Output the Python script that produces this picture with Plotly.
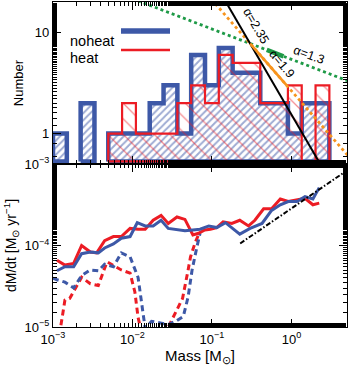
import numpy as np
import plotly.graph_objects as go

# ---------------- data ----------------
# histogram (20 log-spaced bins from 1e-3 to 3 Msun)
bin_lo_log, bin_hi_log, n_bins = -3.0, np.log10(3.0), 20
noheat_counts = [1, 0, 2, 0, 1, 1, 1, 2, 3, 1, 6, 3, 7, 4, 4, 2, 2, 1, 2, 2]
heat_counts   = [0, 0, 0, 0, 1, 2, 1, 1, 1, 2, 3, 2, 6, 5, 5, 2, 2, 3, 0, 3]

# power-law slopes meeting at a common pivot (log M, log N)
pivot_logM, pivot_logN = -0.52, 0.89
alpha_salpeter = 2.35
alpha_mid = 1.9
alpha_flat = 1.3
mid_solid_logM = [-0.52, -0.06]
flat_solid_logM = [-0.31, -0.10]

# accretion rates (log10 Msun/yr) vs log10 mass
heat_logM = [-2.95, -2.85, -2.74, -2.64, -2.53, -2.45, -2.35, -2.24, -2.14, -2.03,
             -1.93, -1.84, -1.74, -1.64, -1.55, -1.44, -1.34, -1.24, -1.17, -1.09,
             -1.02, -0.94, -0.86, -0.75, -0.65, -0.54, -0.46, -0.35, -0.25, -0.14,
             -0.04, 0.07, 0.17, 0.27, 0.35]
heat_rate = [-4.18, -4.24, -4.22, -4.00, -4.08, -4.09, -3.94, -3.89, -3.89, -3.79,
             -3.80, -3.80, -3.69, -3.63, -3.73, -3.65, -3.68, -3.87, -3.85, -3.81,
             -3.80, -3.78, -3.71, -3.73, -3.69, -3.76, -3.69, -3.55, -3.55, -3.43,
             -3.46, -3.44, -3.42, -3.50, -3.48]
noheat_logM = [-2.95, -2.85, -2.74, -2.64, -2.53, -2.43, -2.35, -2.24, -2.14, -2.03,
               -1.94, -1.84, -1.74, -1.64, -1.55, -1.44, -1.34, -1.24, -1.15, -1.04,
               -0.94, -0.83, -0.65, -0.52, -0.37, -0.25, -0.14, -0.04, 0.07, 0.17,
               0.27, 0.35]
noheat_rate = [-4.31, -4.26, -4.26, -4.10, -4.08, -4.09, -4.03, -3.98, -3.91, -3.89,
               -3.72, -3.76, -3.76, -3.69, -3.79, -3.81, -3.82, -3.81, -3.80, -3.76,
               -3.78, -3.72, -3.86, -3.79, -3.73, -3.57, -3.50, -3.46, -3.46, -3.40,
               -3.43, -3.29]
heat_dash_logM = [-2.92, -2.85, -2.79, -2.64, -2.53, -2.43, -2.32, -2.24, -2.14, -2.03,
                  -1.97, -1.93, -1.88, -1.60, -1.55, -1.44, -1.37, -1.30, -1.27, -1.21, -1.17]
heat_dash_rate = [-5.10, -4.67, -4.65, -4.39, -4.47, -4.49, -4.20, -4.24, -4.30, -4.34,
                  -4.57, -4.88, -5.10, -5.10, -5.00, -4.78, -4.65, -4.30, -4.14, -3.96, -3.87]
noheat_dash_logM = [-3.0, -2.95, -2.85, -2.74, -2.64, -2.53, -2.43, -2.35, -2.24, -2.14,
                    -2.03, -1.93, -1.84, -1.76, -1.65, -1.55, -1.44, -1.36, -1.30, -1.25,
                    -1.19, -1.15]
noheat_dash_rate = [-4.40, -4.42, -4.45, -4.52, -4.37, -4.30, -4.31, -4.23, -4.26, -4.09,
                    -4.14, -4.39, -5.02, -4.93, -4.95, -4.97, -4.92, -4.87, -4.63, -4.30,
                    -4.02, -3.85]
# reference power law dM/dt ~ M^(2/3)
ref_logM = [-0.645, 0.75]
ref_anchor_rate = -3.975
ref_slope = 2.0 / 3.0

# ---------------- style ----------------
BLUE = "#3D58A7"
RED = "#EC1C24"
ORANGE = "#F7941D"
GREEN = "#1E9A47"
FONT = "Liberation Sans, Arial, sans-serif"

fig = go.Figure()

# ---- histograms ----
edges = np.linspace(bin_lo_log, bin_hi_log, n_bins + 1)
base = 0.53


def step_outline(counts):
    xs, ys = [], []
    i = 0
    n = len(counts)
    while i < n:
        if counts[i] <= 0:
            i += 1
            continue
        j = i
        xs.append(edges[i]); ys.append(base)
        while j < n and counts[j] > 0:
            xs += [edges[j], edges[j + 1]]
            ys += [counts[j], counts[j]]
            j += 1
        xs.append(edges[j]); ys.append(base)
        xs.append(edges[i]); ys.append(base)
        xs.append(None); ys.append(None)
        i = j
    return [None if v is None else 10 ** v for v in xs], ys


bx, by = step_outline(noheat_counts)
fig.add_trace(go.Scatter(x=bx, y=by, mode="lines", fill="toself",
                         fillcolor="rgba(0,0,0,0)",
                         fillpattern=dict(shape="/", fgcolor=BLUE, bgcolor="rgba(0,0,0,0)",
                                          size=5, solidity=0.4, fillmode="overlay"),
                         line=dict(color=BLUE, width=4.5), xaxis="x", yaxis="y",
                         showlegend=False, hoverinfo="skip"))
rx, ry = step_outline(heat_counts)
fig.add_trace(go.Scatter(x=rx, y=ry, mode="lines", fill="toself",
                         fillcolor="rgba(0,0,0,0)",
                         fillpattern=dict(shape="\\", fgcolor=RED, bgcolor="rgba(0,0,0,0)",
                                          size=11, solidity=0.12, fillmode="overlay"),
                         line=dict(color=RED, width=2.2), xaxis="x", yaxis="y",
                         showlegend=False, hoverinfo="skip"))


# ---- power laws ----
def powerlaw(logm, alpha):
    logm = np.asarray(logm, dtype=float)
    return 10 ** (pivot_logN - (alpha - 1.0) * (logm - pivot_logM))


full = np.linspace(-2.0, 1.0, 60)
fig.add_trace(go.Scatter(x=10 ** full, y=powerlaw(full, alpha_flat), mode="lines",
                         line=dict(color=GREEN, width=2.8, dash="dot"),
                         xaxis="x", yaxis="y", showlegend=False, hoverinfo="skip"))
fig.add_trace(go.Scatter(x=10 ** full, y=powerlaw(full, alpha_mid), mode="lines",
                         line=dict(color=ORANGE, width=2.8, dash="dot"),
                         xaxis="x", yaxis="y", showlegend=False, hoverinfo="skip"))
fig.add_trace(go.Scatter(x=10 ** full, y=powerlaw(full, alpha_salpeter), mode="lines",
                         line=dict(color="black", width=2),
                         xaxis="x", yaxis="y", showlegend=False, hoverinfo="skip"))
seg = np.linspace(*mid_solid_logM, 10)
fig.add_trace(go.Scatter(x=10 ** seg, y=powerlaw(seg, alpha_mid), mode="lines",
                         line=dict(color=ORANGE, width=2.5),
                         xaxis="x", yaxis="y", showlegend=False, hoverinfo="skip"))
seg = np.linspace(*flat_solid_logM, 10)
fig.add_trace(go.Scatter(x=10 ** seg, y=powerlaw(seg, alpha_flat), mode="lines",
                         line=dict(color=GREEN, width=4.5),
                         xaxis="x", yaxis="y", showlegend=False, hoverinfo="skip"))

# ---- accretion rates ----
def add_rate(logm, rate, color, dash):
    fig.add_trace(go.Scatter(x=np.power(10.0, logm), y=np.power(10.0, rate), mode="lines",
                             line=dict(color=color, width=3, dash=dash),
                             xaxis="x2", yaxis="y2", showlegend=False, hoverinfo="skip"))


add_rate(heat_dash_logM, heat_dash_rate, RED, "6px,4px")
add_rate(noheat_dash_logM, noheat_dash_rate, BLUE, "6px,4px")
add_rate(heat_logM, heat_rate, RED, "solid")
add_rate(noheat_logM, noheat_rate, BLUE, "solid")
rl = np.array(ref_logM)
fig.add_trace(go.Scatter(x=10 ** rl, y=10 ** (ref_anchor_rate + ref_slope * (rl - ref_logM[0])),
                         mode="lines", line=dict(color="black", width=2, dash="5px,2px,1.5px,2px"),
                         xaxis="x2", yaxis="y2", showlegend=False, hoverinfo="skip"))

# ---- axes ----
xr = [-3, np.log10(5)]
xticks = [1e-3, 1e-2, 1e-1, 1]
xtext = ["10<sup>−3</sup>", "10<sup>−2</sup>", "10<sup>−1</sup>", "10<sup>0</sup>"]
common = dict(type="log", showline=True, linecolor="black", linewidth=1.2, mirror="ticks",
              ticks="inside", ticklen=8, tickwidth=1, tickcolor="black", showgrid=False,
              zeroline=False, automargin=False,
              minor=dict(ticks="inside", ticklen=4, tickcolor="black", showgrid=False),
              tickfont=dict(family=FONT, size=13, color="black"))
split = 0.5015
fig.update_layout(
    width=349, height=367,
    margin=dict(l=53, r=2, t=2, b=40),
    paper_bgcolor="white", plot_bgcolor="white",
    font=dict(family=FONT, size=13, color="black"),
    xaxis=dict(common, range=xr, domain=[0, 1], anchor="y", tickvals=xticks,
               showticklabels=False),
    yaxis=dict(common, range=[np.log10(0.5), np.log10(20)], domain=[split, 1], anchor="x",
               tickvals=[1, 10], ticktext=["1", "10"],
               title=dict(text="Number", standoff=8, font=dict(size=13))),
    xaxis2=dict(common, range=xr, domain=[0, 1], anchor="y2", tickvals=xticks, ticktext=xtext,
                title=dict(text="Mass [M<sub>⊙</sub>]", standoff=2, font=dict(size=15))),
    yaxis2=dict(common, range=[-5, -3], domain=[0, split], anchor="x2",
                tickvals=[1e-5, 1e-4, 1e-3],
                ticktext=["10<sup>−5</sup>", "10<sup>−4</sup>", "10<sup>−3</sup>"],
                title=dict(text="dM/dt [M<sub>⊙</sub> yr<sup>−1</sup>]", standoff=4,
                           font=dict(size=14))),
)

# ---- slope labels ----
for txt, lx, ly, ang in [("α=2.35", -0.45, 1.06, 60), ("α=1.9", -0.12, 0.69, 50),
                         ("α=1.3", 0.22, 0.78, 20)]:
    fig.add_annotation(x=lx, y=ly, xref="x", yref="y", text=txt, textangle=ang,
                       showarrow=False, font=dict(family=FONT, size=12.5, color="black"))

# ---- legend (text left, line right) ----
def py(p):
    return (327 - p) / 325.0


def px(p):
    return (p - 53) / 294.0


fig.add_annotation(x=px(68), y=py(31), xref="paper", yref="paper", text="noheat",
                   showarrow=False, xanchor="left", font=dict(family=FONT, size=14.5))
fig.add_annotation(x=px(68), y=py(48), xref="paper", yref="paper", text="heat",
                   showarrow=False, xanchor="left", font=dict(family=FONT, size=14.5))
fig.add_shape(type="line", xref="paper", yref="paper", x0=px(121), x1=px(170),
              y0=py(31), y1=py(31), line=dict(color=BLUE, width=5.5))
fig.add_shape(type="line", xref="paper", yref="paper", x0=px(121), x1=px(170),
              y0=py(50), y1=py(50), line=dict(color=RED, width=2.5))

fig.write_html("out.html", post_script="document.body.style.margin='0px';",
               config={"displayModeBar": False})
